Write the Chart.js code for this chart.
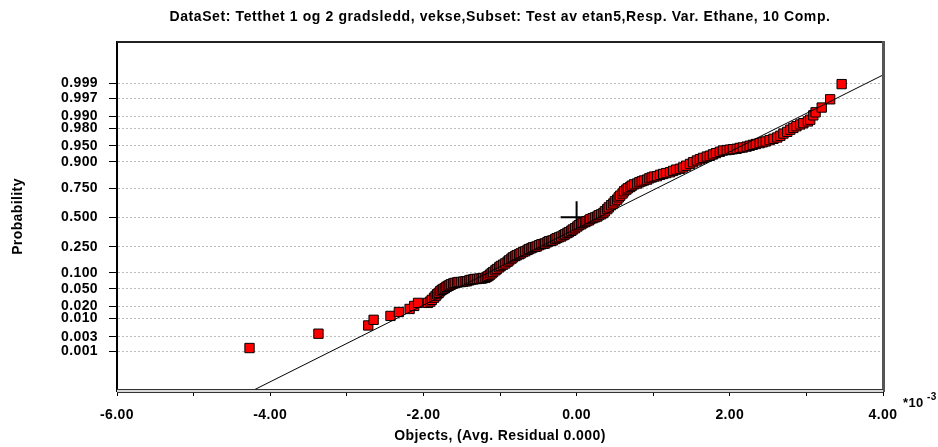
<!DOCTYPE html>
<html>
<head>
<meta charset="utf-8">
<script src="https://cdn.jsdelivr.net/npm/chart.js@4.4.1/dist/chart.umd.min.js"></script>
<style>
  html, body { margin: 0; padding: 0; background: #fff; }
  #wrap { width: 938px; height: 447px; position: relative; }
</style>
</head>
<body>
<div id="wrap"><canvas id="probChart" width="938" height="447"></canvas></div>
<script>
const chartTitle = 'DataSet: Tetthet 1 og 2 gradsledd, vekse,Subset: Test av etan5,Resp. Var. Ethane, 10 Comp.';
const xTitle = 'Objects, (Avg. Residual 0.000)';
const yTitle = 'Probability';

// probability axis labels (normal probability paper)
const probLabels = ['0.001', '0.003', '0.010', '0.020', '0.050', '0.100', '0.250', '0.500',
                    '0.750', '0.900', '0.950', '0.980', '0.990', '0.997', '0.999'];

// residuals (*10^-3) and their normal scores
const residuals = [
  -4.27, -3.37, -2.72, -2.65, -2.43, -2.32, -2.18, -2.12, -2.07, -1.94, -1.91, -1.89, -1.86, -1.84, -1.82,
  -1.80, -1.78, -1.76, -1.74, -1.72, -1.70, -1.68, -1.66, -1.64, -1.61, -1.59, -1.56, -1.54, -1.51, -1.48,
  -1.45, -1.43, -1.40, -1.38, -1.35, -1.33, -1.30, -1.27, -1.24, -1.22, -1.19, -1.17, -1.15, -1.13, -1.11,
  -1.09, -1.06, -1.04, -1.01, -0.99, -0.96, -0.93, -0.90, -0.88, -0.85, -0.83, -0.80, -0.78, -0.75, -0.73,
  -0.70, -0.67, -0.64, -0.62, -0.59, -0.57, -0.54, -0.52, -0.49, -0.46, -0.43, -0.41, -0.38, -0.36, -0.33,
  -0.31, -0.28, -0.26, -0.23, -0.20, -0.17, -0.15, -0.12, -0.10, -0.07, -0.05, -0.02, 0.01, 0.03, 0.06,
  0.08, 0.11, 0.13, 0.16, 0.18, 0.21, 0.24, 0.27, 0.29, 0.32, 0.35, 0.37, 0.40, 0.42, 0.45,
  0.48, 0.50, 0.53, 0.55, 0.57, 0.60, 0.62, 0.65, 0.67, 0.70, 0.72, 0.75, 0.79, 0.82, 0.85,
  0.88, 0.92, 0.95, 0.98, 1.01, 1.05, 1.09, 1.13, 1.17, 1.22, 1.26, 1.30, 1.35, 1.39, 1.43,
  1.48, 1.52, 1.57, 1.61, 1.65, 1.70, 1.74, 1.78, 1.82, 1.87, 1.91, 1.96, 2.00, 2.04, 2.09,
  2.13, 2.17, 2.22, 2.26, 2.30, 2.34, 2.39, 2.43, 2.47, 2.52, 2.57, 2.62, 2.66, 2.70, 2.75,
  2.79, 2.83, 2.87, 2.92, 2.96, 3.02, 3.05, 3.09, 3.12, 3.20, 3.31, 3.46
];
const normalScores = [
  -3.01, -2.68, -2.49, -2.36, -2.27, -2.18, -2.11, -2.04, -1.97, -1.97, -1.94, -1.90, -1.85, -1.81, -1.77,
  -1.74, -1.70, -1.67, -1.65, -1.63, -1.60, -1.58, -1.56, -1.54, -1.52, -1.51, -1.50, -1.49, -1.49, -1.48,
  -1.47, -1.47, -1.45, -1.44, -1.43, -1.42, -1.42, -1.41, -1.41, -1.40, -1.39, -1.37, -1.35, -1.32, -1.29,
  -1.26, -1.22, -1.19, -1.15, -1.12, -1.09, -1.06, -1.02, -0.99, -0.95, -0.92, -0.89, -0.87, -0.85, -0.83,
  -0.80, -0.78, -0.75, -0.73, -0.71, -0.69, -0.68, -0.67, -0.64, -0.62, -0.61, -0.60, -0.57, -0.55, -0.54,
  -0.53, -0.50, -0.48, -0.46, -0.44, -0.41, -0.39, -0.36, -0.34, -0.31, -0.28, -0.25, -0.21, -0.18, -0.16,
  -0.13, -0.11, -0.09, -0.07, -0.04, -0.02, 0.00, 0.02, 0.05, 0.07, 0.10, 0.14, 0.19, 0.23, 0.28,
  0.32, 0.37, 0.41, 0.46, 0.50, 0.55, 0.60, 0.64, 0.67, 0.70, 0.73, 0.76, 0.78, 0.81, 0.83,
  0.85, 0.87, 0.90, 0.92, 0.94, 0.95, 0.98, 1.00, 1.02, 1.04, 1.07, 1.10, 1.12, 1.15, 1.19,
  1.23, 1.27, 1.31, 1.34, 1.37, 1.40, 1.42, 1.45, 1.48, 1.51, 1.54, 1.55, 1.56, 1.57, 1.58,
  1.60, 1.61, 1.63, 1.65, 1.67, 1.69, 1.71, 1.73, 1.75, 1.78, 1.81, 1.84, 1.88, 1.93, 1.97,
  2.02, 2.06, 2.10, 2.14, 2.17, 2.21, 2.25, 2.35, 2.42, 2.53, 2.72, 3.07
];

// fitted normal line and the centre mark
const fitLineX = [-4.24, 4.00];
const fitLineY = [-4.00, 3.28];
const centreMark = [0.00, 0.00];

// inverse of the normal cdf (Acklam), for placing probability ticks
function probit(p) {
  const a = [-39.69683028665376, 220.9460984245205, -275.9285104469687, 138.3577518672690, -30.66479806614716, 2.506628277459239];
  const b = [-54.47609879822406, 161.5858368580409, -155.6989798598866, 66.80131188771972, -13.28068155288572];
  const c = [-7.784894002430293e-03, -0.3223964580411365, -2.400758277161838, -2.549732539343734, 4.374664141464968, 2.938163982698783];
  const d = [7.784695709041462e-03, 0.3224671290700398, 2.445134137142996, 3.754408661907416];
  const pl = 0.02425;
  let q, r;
  if (p < pl) {
    q = Math.sqrt(-2 * Math.log(p));
    return (((((c[0]*q+c[1])*q+c[2])*q+c[3])*q+c[4])*q+c[5]) / ((((d[0]*q+d[1])*q+d[2])*q+d[3])*q+1);
  }
  if (p > 1 - pl) {
    q = Math.sqrt(-2 * Math.log(1 - p));
    return -(((((c[0]*q+c[1])*q+c[2])*q+c[3])*q+c[4])*q+c[5]) / ((((d[0]*q+d[1])*q+d[2])*q+d[3])*q+1);
  }
  q = p - 0.5; r = q * q;
  return (((((a[0]*r+a[1])*r+a[2])*r+a[3])*r+a[4])*r+a[5])*q / (((((b[0]*r+b[1])*r+b[2])*r+b[3])*r+b[4])*r+1);
}

const FONT = '"Liberation Sans", Arial, sans-serif';

// slightly wider text, like the original renderer
const spacingPlugin = {
  id: 'spacing',
  beforeDraw(chart) { chart.ctx.letterSpacing = '0.4px'; }
};

// frame, title and exponent text
const framePlugin = {
  id: 'frame',
  afterDraw(chart) {
    const ctx = chart.ctx;
    const a = chart.chartArea;
    ctx.save();
    ctx.fillStyle = '#222';
    ctx.fillRect(a.left, a.top - 1, a.right - a.left, 2);
    ctx.fillStyle = '#555';
    ctx.fillRect(a.right - 1, a.top - 1, 3, a.bottom - a.top + 2);
    ctx.fillStyle = '#333';
    ctx.fillRect(a.left, a.bottom - 2, a.right - a.left, 1);
    ctx.fillRect(a.left, a.bottom + 1, a.right - a.left, 1);
    ctx.fillStyle = '#d8d8d8';
    ctx.fillRect(a.left, a.bottom - 1, a.right - a.left, 2);

    ctx.fillStyle = '#000';
    ctx.textBaseline = 'middle';
    ctx.textAlign = 'center';
    ctx.letterSpacing = '0.6px';
    ctx.font = 'bold 14px ' + FONT;
    ctx.fillText(chartTitle, (a.left + a.right) / 2, 17);

    ctx.letterSpacing = '0.4px';
    ctx.textAlign = 'left';
    ctx.textBaseline = 'alphabetic';
    ctx.font = 'bold 13px ' + FONT;
    ctx.fillText('*10', 903, 407);
    ctx.font = 'bold 10px ' + FONT;
    ctx.fillText('-3', 927, 400);
    ctx.restore();
  }
};

new Chart(document.getElementById('probChart'), {
  type: 'scatter',
  data: {
    datasets: [{
      label: 'fit',
      type: 'line',
      data: fitLineX.map((x, i) => ({ x: x, y: fitLineY[i] })),
      borderColor: '#000',
      borderWidth: 1,
      pointRadius: 0,
      fill: false,
      order: 0
    }, {
      label: 'residuals',
      data: residuals.map((x, i) => ({ x: x, y: normalScores[i] })),
      pointStyle: 'rect',
      pointRadius: 6.6,
      backgroundColor: '#ff0000',
      borderColor: '#000',
      borderWidth: 1,
      order: 1
    }, {
      label: 'centre',
      data: [{ x: centreMark[0], y: centreMark[1] }],
      pointStyle: 'cross',
      pointRadius: 16,
      borderColor: '#000',
      borderWidth: 2,
      order: 2
    }]
  },
  options: {
    responsive: false,
    animation: false,
    layout: { padding: { top: 42, right: 55, left: 0, bottom: 0 } },
    plugins: {
      legend: { display: false },
      tooltip: { enabled: false }
    },
    scales: {
      x: {
        type: 'linear',
        min: -6,
        max: 4,
        afterFit: s => { s.height = 56; },
        border: { display: false },
        grid: {
          drawOnChartArea: false,
          tickLength: 5,
          tickColor: '#000',
          tickWidth: 1
        },
        ticks: {
          stepSize: 1,
          autoSkip: false,
          maxRotation: 0,
          padding: 11,
          color: '#000',
          font: { family: FONT, size: 14, weight: 'bold' },
          callback: v => (v % 2 === 0 ? v.toFixed(2) : '')
        },
        title: {
          display: true,
          text: xTitle,
          color: '#000',
          font: { family: FONT, size: 14, weight: 'bold' },
          padding: { top: 0, bottom: 2 }
        }
      },
      y: {
        type: 'linear',
        min: -4,
        max: 4.04,
        afterFit: s => { s.width = 117; },
        afterBuildTicks: s => { s.ticks = probLabels.map(p => ({ value: probit(parseFloat(p)) })); },
        border: { display: true, color: '#000', width: 2, dash: [2, 2] },
        grid: {
          color: '#bdbdbd',
          lineWidth: 1,
          tickLength: 8,
          tickColor: '#000',
          tickWidth: 1,
          tickBorderDash: []
        },
        ticks: {
          autoSkip: false,
          padding: 11,
          color: '#000',
          font: { family: FONT, size: 14, weight: 'bold' },
          callback: (v, i) => probLabels[i]
        },
        title: {
          display: true,
          text: yTitle,
          color: '#000',
          font: { family: FONT, size: 14, weight: 'bold' },
          padding: { top: 10, bottom: 0 }
        }
      }
    }
  },
  plugins: [spacingPlugin, framePlugin]
});
</script>
</body>
</html>
